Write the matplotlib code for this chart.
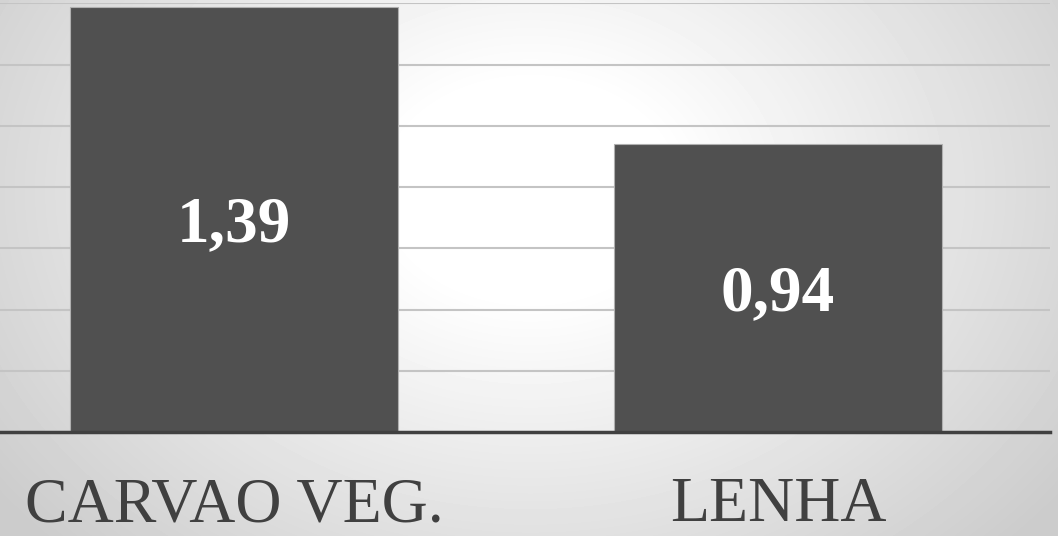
import numpy as np
import matplotlib.pyplot as plt

# data
categories = ["CARVAO VEG.", "LENHA"]
values = [1.39, 0.94]
value_labels = ["1,39", "0,94"]

fig = plt.figure(figsize=(10.58, 5.36), dpi=100)

# radial grey background, white near the middle
bg = fig.add_axes([0, 0, 1, 1])
yy, xx = np.mgrid[0:536, 0:1058]
dist = np.sqrt((xx - 530.0) ** 2 + ((yy - 190.0) * 1.3) ** 2)
shade = 1.0 - 0.20 * np.clip((dist - 140.0) / 520.0, 0, 1)
bg.imshow(shade, cmap="gray", vmin=0, vmax=1, aspect="auto",
          extent=[0, 1, 0, 1], interpolation="bilinear")
bg.axis("off")

ax = fig.add_axes([0, 0.194, 0.9924, 0.7995])
ax.patch.set_visible(False)

x = np.arange(len(categories))
ax.bar(x, values, width=0.603, color="#505050", edgecolor="#b0b0b0",
       linewidth=0.8, zorder=3)

# value labels inside the bars, nudged a little below the middle
for xi, v, lab in zip(x, values, value_labels):
    ax.annotate(lab, (xi, v / 2), xytext=(0, -4), textcoords="offset points",
                ha="center", va="center", color="white",
                fontsize=47, fontweight="bold", family="Liberation Serif",
                zorder=4)

ax.set_xlim(-0.430, 1.500)
ax.set_ylim(0, 1.4)
ax.set_yticks(np.arange(0, 1.41, 0.2))
ax.yaxis.grid(True, color="#c4c4c4", linewidth=1.5, zorder=1)
ax.tick_params(left=False, labelleft=False, bottom=False)

for s in ["top", "right", "left"]:
    ax.spines[s].set_visible(False)
ax.spines["bottom"].set_color("#404040")
ax.spines["bottom"].set_linewidth(2.5)
ax.spines["bottom"].set_zorder(5)

ax.set_xticks(x)
ax.set_xticklabels(categories, fontsize=46, family="Liberation Serif",
                   color="#404040")
ax.tick_params(axis="x", pad=29)

fig.savefig("out.png", dpi=100)
